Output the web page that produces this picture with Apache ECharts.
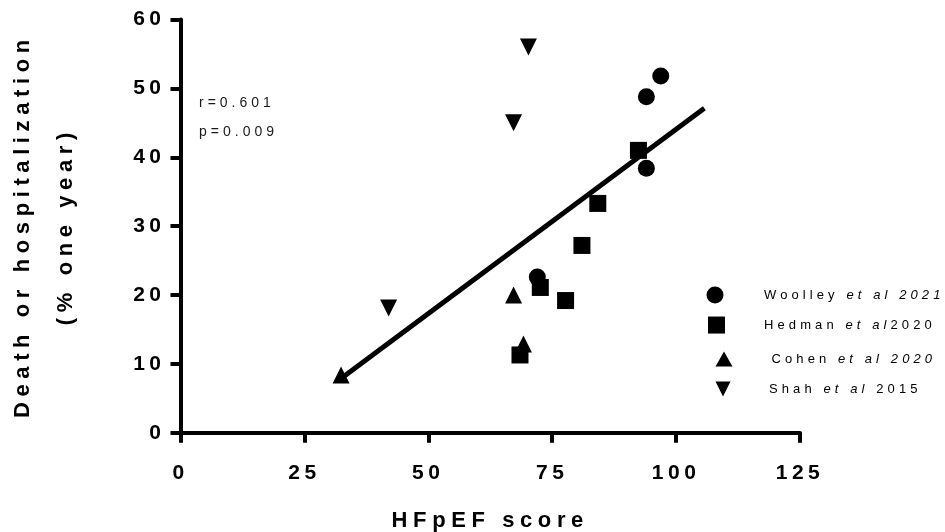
<!DOCTYPE html>
<html>
<head>
<meta charset="utf-8">
<script src="https://cdn.jsdelivr.net/npm/echarts@6/dist/echarts.min.js"></script>
<style>
  html, body { margin: 0; padding: 0; background: #ffffff; }
  #chart { width: 945px; height: 532px; }
</style>
</head>
<body>
<div id="chart"></div>
<script>
// ---------------- data ----------------
const studyAuthors = ['Woolley', 'Hedman', 'Cohen', 'Shah'];
const studyItalic  = ['et al 2021', 'et al', 'et al 2020', 'et al'];
const studySuffix  = ['', '2020', '', ' 2015'];

const woolleyX = [96.9, 94.0, 94.0, 72.0];
const woolleyY = [51.8, 48.8, 38.4, 22.6];
const hedmanX  = [92.4, 84.2, 81.0, 72.6, 77.7, 68.5];
const hedmanY  = [41.0, 33.3, 27.2, 21.1, 19.2, 11.3];
const cohenX   = [67.2, 69.2, 32.4];
const cohenY   = [20.0, 12.9, 8.4];
const shahX    = [70.2, 67.2, 42.0];
const shahY    = [56.0, 45.0, 18.1];

const fitX = [32.8, 105.7];
const fitY = [8.1, 47.1];

const xTicks = [0, 25, 50, 75, 100, 125];
const yTicks = [0, 10, 20, 30, 40, 50, 60];
const statLabels = ['r=0.601', 'p=0.009'];
const xTitle = 'HFpEF score';
const yTitle = ['Death or hospitalization', '(% one year)'];

// ---------------- letter spacing (style) ----------------
const SPACING = { 22: 5.6, 21: 4.5, 14: 4, 13: 4.1 };
(function () {
  const P = CanvasRenderingContext2D.prototype;
  function sp(ctx) {
    const m = /(\d+(?:\.\d+)?)px/.exec(ctx.font || '');
    const s = m ? parseFloat(m[1]) : 0;
    return (SPACING[s] || 0) + 'px';
  }
  const of = P.fillText, om = P.measureText;
  P.fillText = function (t, x, y, w) {
    if ('letterSpacing' in this) this.letterSpacing = sp(this);
    return w === undefined ? of.call(this, t, x, y) : of.call(this, t, x, y, w);
  };
  P.measureText = function (t) {
    if ('letterSpacing' in this) this.letterSpacing = sp(this);
    return om.call(this, t);
  };
})();

// ---------------- chart ----------------
const FONT = 'Liberation Sans, Arial, sans-serif';
const zip = (xs, ys) => xs.map((x, i) => [x, ys[i]]);
const names = studyAuthors.map((a, i) => a + ' ' + studyItalic[i] + studySuffix[i]);
const symbols = ['circle', 'rect', 'triangle', 'path://M0,0L10,0L5,10Z'];
const pointSets = [zip(woolleyX, woolleyY), zip(hedmanX, hedmanY), zip(cohenX, cohenY), zip(shahX, shahY)];

// legend row placement (icon centre x, row centre y, text start x)
const legendRows = [
  { ix: 715, cy: 295, tx: 764 },
  { ix: 716.5, cy: 325, tx: 764 },
  { ix: 724, cy: 359, tx: 771.5 },
  { ix: 724, cy: 389, tx: 770 }
];
const LI = 17;

const legends = names.map((n, i) => ({
  data: [{ name: n, icon: symbols[i] }],
  orient: 'vertical',
  left: legendRows[i].ix - LI / 2,
  top: legendRows[i].cy - LI / 2,
  padding: 0,
  itemWidth: LI,
  itemHeight: i >= 2 ? 15 : LI,
  selectedMode: false,
  itemStyle: { opacity: 1 },
  formatter: function () {
    let s = '{n|' + studyAuthors[i] + ' }{i|' + studyItalic[i] + '}';
    if (studySuffix[i]) s += '{n|' + studySuffix[i] + '}';
    return s;
  },
  textStyle: {
    color: '#000',
    fontFamily: FONT,
    fontSize: 13,
    padding: [0, 0, 0, legendRows[i].tx - legendRows[i].ix - LI / 2 - 5],
    rich: {
      n: { fontFamily: FONT, fontSize: 13, color: '#000' },
      i: { fontFamily: FONT, fontSize: 13, fontStyle: 'italic', color: '#000' }
    }
  }
}));

const series = names.map((n, i) => ({
  name: n,
  type: 'scatter',
  symbol: symbols[i],
  symbolSize: 17,
  itemStyle: { color: '#000', opacity: 1 },
  data: pointSets[i],
  z: 3
}));
series.push({
  name: 'fit',
  type: 'line',
  data: zip(fitX, fitY),
  showSymbol: false,
  symbol: 'none',
  lineStyle: { color: '#000', width: 5, opacity: 1 },
  z: 2,
  silent: true
});

const chart = echarts.init(document.getElementById('chart'), null, { renderer: 'canvas' });
chart.setOption({
  animation: false,
  backgroundColor: '#ffffff',
  title: {
    text: statLabels.join('\n'),
    left: 199,
    top: 88.5,
    padding: 0,
    textStyle: { fontFamily: FONT, fontSize: 14, fontWeight: 'normal', color: '#1a1a1a', lineHeight: 29 }
  },
  legend: legends,
  grid: { left: 180.5, right: 145, top: 19.5, bottom: 99.2, containLabel: false, outerBoundsMode: 'none' },
  xAxis: {
    type: 'value',
    min: xTicks[0],
    max: xTicks[xTicks.length - 1],
    interval: xTicks[1] - xTicks[0],
    name: xTitle,
    nameLocation: 'middle',
    nameGap: 74,
    nameTextStyle: { fontFamily: FONT, fontSize: 22, fontWeight: 'bold', color: '#000' },
    axisLine: { show: true, lineStyle: { color: '#000', width: 4 } },
    axisTick: { show: true, length: 10, lineStyle: { color: '#000', width: 4 } },
    axisLabel: { margin: 28, color: '#000', fontFamily: FONT, fontSize: 21, fontWeight: 'bold' },
    splitLine: { show: false }
  },
  yAxis: {
    type: 'value',
    min: yTicks[0],
    max: yTicks[yTicks.length - 1],
    interval: yTicks[1] - yTicks[0],
    name: yTitle.join('\n'),
    nameLocation: 'middle',
    nameRotate: 90,
    nameGap: 93,
    nameTextStyle: { fontFamily: FONT, fontSize: 22, fontWeight: 'bold', color: '#000', lineHeight: 43 },
    axisLine: { show: true, lineStyle: { color: '#000', width: 4 } },
    axisTick: { show: true, length: 10, lineStyle: { color: '#000', width: 4 } },
    axisLabel: { margin: 15, color: '#000', fontFamily: FONT, fontSize: 21, fontWeight: 'bold' },
    splitLine: { show: false }
  },
  series: series
});
</script>
</body>
</html>
